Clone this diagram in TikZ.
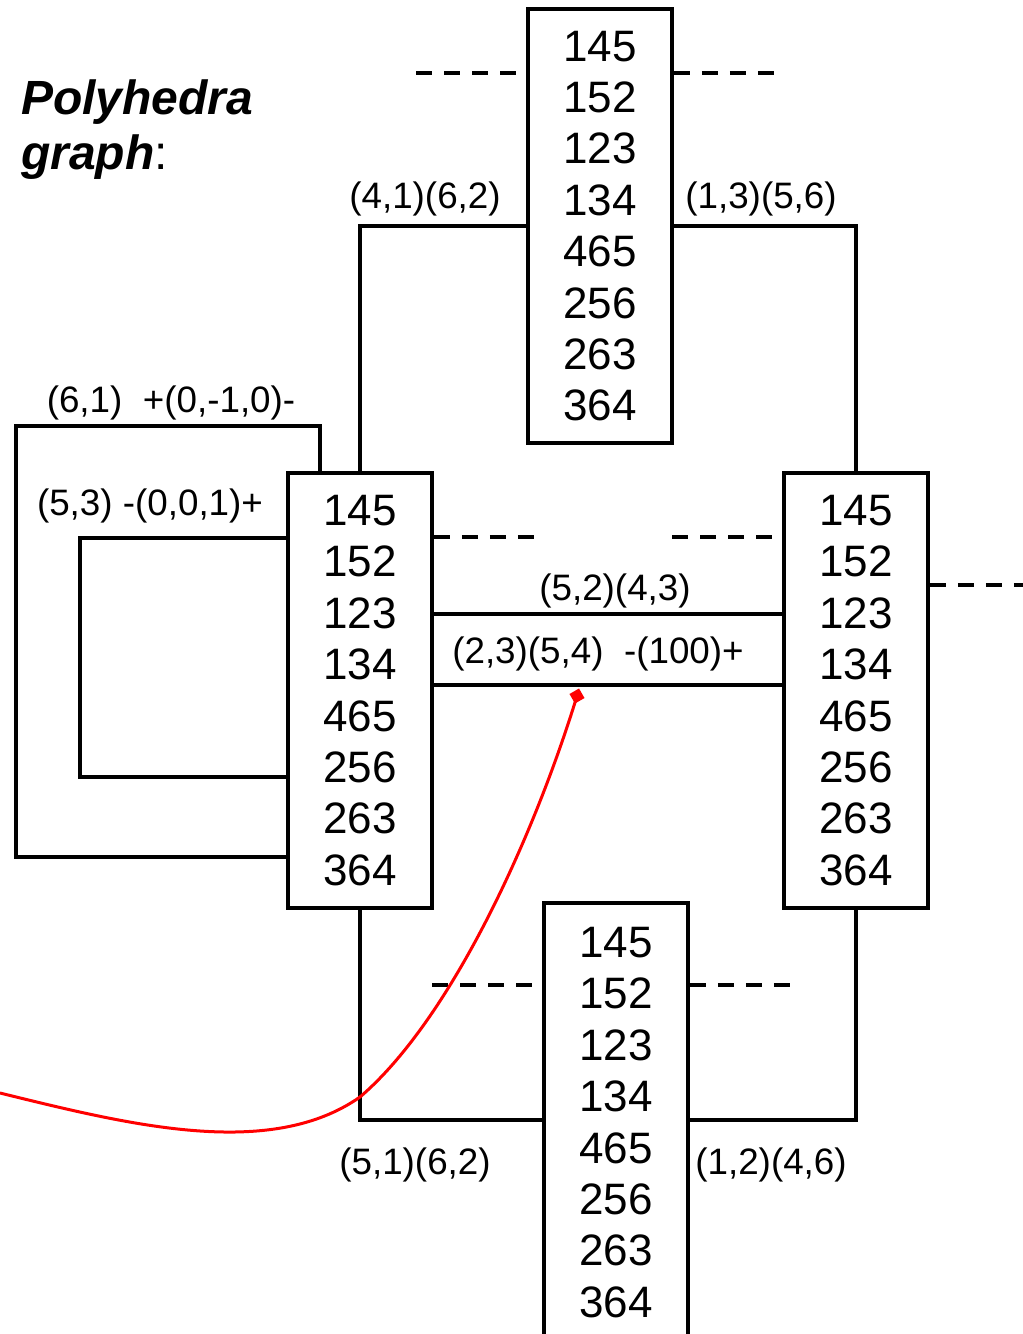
\documentclass[tikz,border=0pt]{standalone}
\usepackage{fontspec}
\setmainfont{Liberation Sans}
\begin{document}
\begin{tikzpicture}[x=1pt,y=-1pt,
  conn/.style={line width=3.5pt},
  dashline/.style={line width=3.5pt, dash pattern=on 16pt off 12pt},
  numbox/.style={draw, line width=3.5pt, minimum width=144pt, minimum height=435pt,
    inner sep=0pt, align=center, font=\fontsize{44}{51.4}\selectfont},
  lbl/.style={inner sep=0pt, font=\fontsize{36.8}{44}\selectfont},
  ttl/.style={anchor=base west, inner sep=0pt, font=\fontsize{48}{56}\selectfont}]
% canvas
\path[fill=white, use as bounding box] (0,0) rectangle (1023,1334);

% title
\node[ttl] (t1) at (21,114) {\bfseries\itshape Polyhedra};
\node[ttl] (t2) at (21,169) {{\bfseries\itshape graph}:};

% the four vertex boxes
\node[numbox, minimum height=434pt] (top) at (600,226) {145\\152\\123\\134\\465\\256\\263\\364};
\node[numbox] (left)  at (360,690.5) {145\\152\\123\\134\\465\\256\\263\\364};
\node[numbox] (right) at (856,690.5) {145\\152\\123\\134\\465\\256\\263\\364};
\node[numbox, minimum height=439pt] (bot) at (616,1122.5) {145\\152\\123\\134\\465\\256\\263\\364};

% helper coordinates
\coordinate (ol1) at (16,426);
\coordinate (ol2) at (16,857);
\coordinate (il1) at (80,538);
\coordinate (il2) at (80,777);
\coordinate (m1) at (600,614);
\coordinate (m2) at (600,685);
\coordinate (b1) at (600,1120);
\coordinate (dy1) at (0,73);
\coordinate (dy2) at (0,537);
\coordinate (dy3) at (0,585);
\coordinate (dy4) at (0,985);
\coordinate (da) at (416,73);
\coordinate (db) at (672,537);
\coordinate (dc) at (432,985);

% edges
\draw[conn] (top.west) -| (left.north);
\draw[conn] (top.east) -| (right.north);
\draw[conn] ([xshift=-40pt]left.north) |- (ol1) |- (left.west |- ol2);
\draw[conn] (left.west |- il1) -- (il1) -- (il2) -- (left.west |- il2);
\draw[conn] (left.east |- m1) -- (right.west |- m1);
\draw[conn] (left.east |- m2) -- (right.west |- m2);
\draw[conn] (left.south) |- (bot.west |- b1);
\draw[conn] (right.south) |- (bot.east |- b1);

% open (dashed) edges
\draw[dashline] (da) -- +(100,0);
\draw[dashline] (top.east |- dy1) -- +(100,0);
\draw[dashline] (left.east |- dy2) -- +(100,0);
\draw[dashline] (db) -- +(100,0);
\draw[dashline] (right.east |- dy3) -- +(100,0);
\draw[dashline] (dc) -- +(100,0);
\draw[dashline] (bot.east |- dy4) -- +(100,0);

% edge labels
\node[lbl] (l41) at (425,199) {(4,1)(6,2)};
\node[lbl] (l13) at (761,199) {(1,3)(5,6)};
\node[lbl] (l61) at (171,403) {(6,1)\ \ +(0,-1,0)-};
\node[lbl] (l53) at (150,506) {(5,3) -(0,0,1)+};
\node[lbl] (l52) at (615,591) {(5,2)(4,3)};
\node[lbl] (l23) at (598,654) {(2,3)(5,4)\ \ -(100)+};
\node[lbl] (l51) at (415,1165) {(5,1)(6,2)};
\node[lbl] (l12) at (771,1165) {(1,2)(4,6)};

% red pointer curve
\coordinate (rs) at (0,1093);
\coordinate (rk) at (360,1097);
\coordinate (hp) at (577,696);
\draw[red, line width=3pt] (rs) .. controls (130,1125) and (270,1160) .. (rk)
  .. controls (451,1019) and (533,839) .. (hp);
\node[fill=red, minimum size=11pt, inner sep=0pt, rotate=30] (handle) at (hp) {};
\end{tikzpicture}
\end{document}
